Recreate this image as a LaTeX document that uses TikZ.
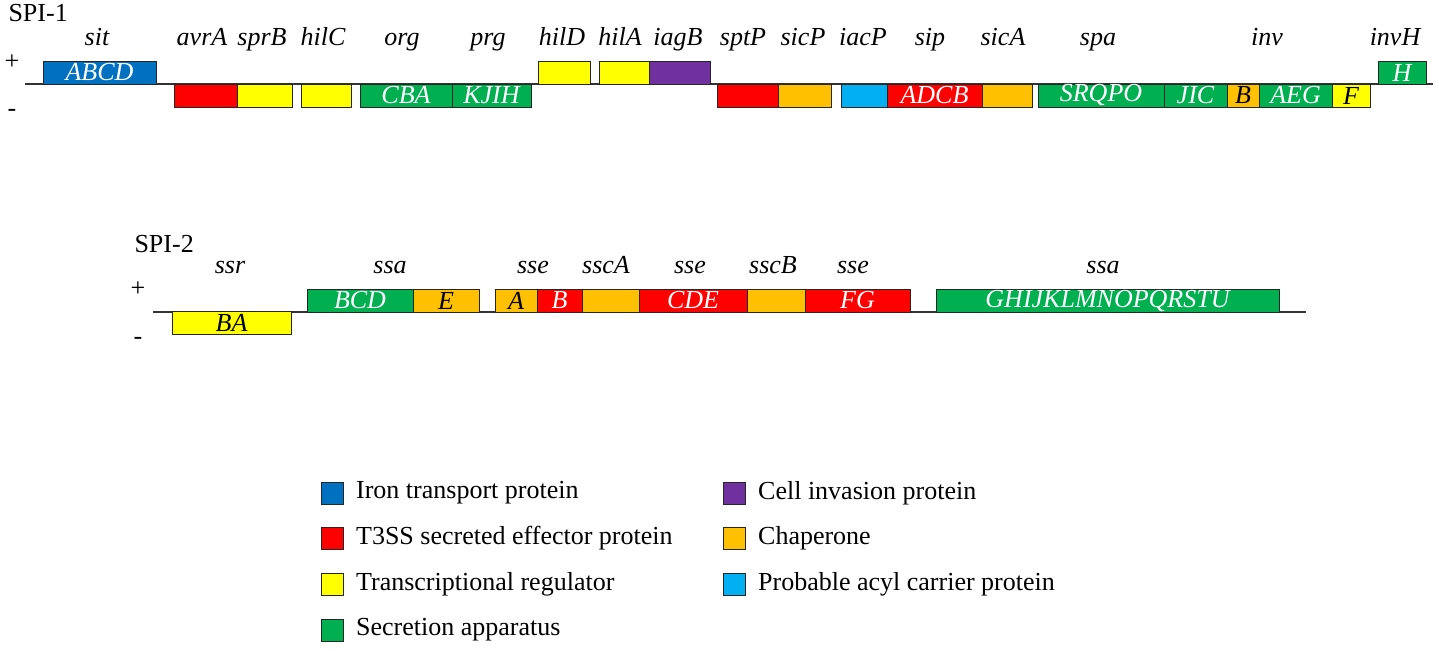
\documentclass[tikz,border=0pt]{standalone}
\usepackage{fontspec}
\setmainfont{Liberation Serif}
\usetikzlibrary{positioning}

\definecolor{ironblue}{RGB}{0,112,192}
\definecolor{effred}{RGB}{255,0,0}
\definecolor{regyellow}{RGB}{255,255,0}
\definecolor{appgreen}{RGB}{0,176,80}
\definecolor{invpurple}{RGB}{112,48,160}
\definecolor{chaporange}{RGB}{255,192,0}
\definecolor{acylblue}{RGB}{0,176,240}

\newcommand{\sz}{\fontsize{26}{30}\selectfont}

\begin{document}
\begin{tikzpicture}[x = 1pt, y = -1pt, font = \sz,
	gene/.style = {draw = black!85, line width = 0.9pt, inner sep = 0, minimum height = 23pt, font = \sz\itshape},
	key/.style = {draw = black!85, line width = 0.9pt, inner sep = 0, minimum size = 22pt},
	locus/.style = {anchor = base, font = \sz\itshape},
	strand/.style = {line width = 1.2pt, black!80},
	iron/.style = {fill = ironblue, text = white},
	effector/.style = {fill = effred, text = white},
	regulator/.style = {fill = regyellow, text = black},
	apparatus/.style = {fill = appgreen, text = white},
	invasion/.style = {fill = invpurple, text = white},
	chaperone/.style = {fill = chaporange, text = black},
	acyl/.style = {fill = acylblue, text = white}]

	\useasboundingbox (0, 0) rectangle (1439, 650);

	% Definitions

	\def\Pa{72.5}		% Centre of + strand genes, SPI-1
	\def\Ma{95.5}		% Centre of - strand genes, SPI-1
	\def\Pb{300.5}		% Centre of + strand genes, SPI-2
	\def\Mb{323}		% Centre of - strand genes, SPI-2

	% SPI-1

	\node [anchor = base west] (spi1) at (5, 22) {SPI-1};
	\node [anchor = base] (plus1) at (12, 70) {+};
	\node [anchor = base] (minus1) at (12, 117) {-};

	\coordinate (s1w) at (25, 84);
	\coordinate (s1e) at (1433, 84);
	\draw [strand] (s1w) -- (s1e);

	\foreach \nm/\xa/\xb/\yc/\cl/\txt in {
		sit/43/156/\Pa/iron/ABCD,
		avrA/174/237/\Ma/effector/{},
		sprB/237/292/\Ma/regulator/{},
		hilC/301/351/\Ma/regulator/{},
		org/360/452/\Ma/apparatus/CBA,
		prg/452/531/\Ma/apparatus/KJIH,
		hilD/538/590/\Pa/regulator/{},
		hilA/599/649/\Pa/regulator/{},
		iagB/649/710/\Pa/invasion/{},
		sptP/717/778/\Ma/effector/{},
		sicP/778/831/\Ma/chaperone/{},
		iacP/841/887/\Ma/acyl/{},
		sip/887/982/\Ma/effector/ADCB,
		sicA/982/1032/\Ma/chaperone/{},
		spa/1038/1164/\Ma/apparatus/SRQPO,
		invJIC/1164/1227/\Ma/apparatus/JIC,
		invB/1227/1259/\Ma/chaperone/B,
		invAEG/1259/1332/\Ma/apparatus/AEG,
		invF/1332/1370/\Ma/regulator/F,
		invH/1378/1426/\Pa/apparatus/H}
		\node [gene, \cl, minimum width = {\xb - \xa}] (\nm) at ({(\xa + \xb) / 2}, \yc) {\txt};

	\foreach \txt/\xc [count = \i] in {sit/97, avrA/202, sprB/262, hilC/323, org/402,
		prg/488, hilD/562, hilA/620, iagB/678, sptP/743, sicP/803, iacP/863,
		sip/930, sicA/1003, spa/1098, inv/1267, invH/1395}
		\node [locus] (la\i) at (\xc, 46) {\txt};

	% SPI-2

	\node [anchor = base west] (spi2) at (131, 252) {SPI-2};
	\node [anchor = base] (plus2) at (138, 296) {+};
	\node [anchor = base] (minus2) at (138, 344) {-};

	\coordinate (s2w) at (153, 312);
	\coordinate (s2e) at (1306, 312);
	\draw [strand] (s2w) -- (s2e);

	\foreach \nm/\xa/\xb/\yc/\cl/\txt in {
		ssr/172/291/\Mb/regulator/BA,
		ssaBCD/307/413/\Pb/apparatus/BCD,
		ssaE/413/479/\Pb/chaperone/E,
		sseA/495/537/\Pb/chaperone/A,
		sseB/537/582/\Pb/effector/B,
		sscA/582/639/\Pb/chaperone/{},
		sseCDE/639/747/\Pb/effector/CDE,
		sscB/747/805/\Pb/chaperone/{},
		sseFG/805/910/\Pb/effector/FG,
		ssaGU/936/1279/\Pb/apparatus/GHIJKLMNOPQRSTU}
		\node [gene, \cl, minimum width = {\xb - \xa}] (\nm) at ({(\xa + \xb) / 2}, \yc) {\txt};

	\foreach \txt/\xc [count = \i] in {ssr/230, ssa/390, sse/533, sscA/606,
		sse/690, sscB/773, sse/853, ssa/1103}
		\node [locus] (lb\i) at (\xc, 273) {\txt};

	% Legend

	\foreach \cl/\xc/\yc/\txt in {
		iron/332.5/493/Iron transport protein,
		effector/332.5/538/T3SS secreted effector protein,
		regulator/332.5/584/Transcriptional regulator,
		apparatus/332.5/630/Secretion apparatus,
		invasion/734.5/493/Cell invasion protein,
		chaperone/734.5/538/Chaperone,
		acyl/734.5/584/Probable acyl carrier protein}
	{
		\node [key, \cl] (k\cl) at (\xc, \yc) {};
		\node [right = 12pt of k\cl, inner sep = 0] (t\cl) {\txt};
	}

\end{tikzpicture}
\end{document}
